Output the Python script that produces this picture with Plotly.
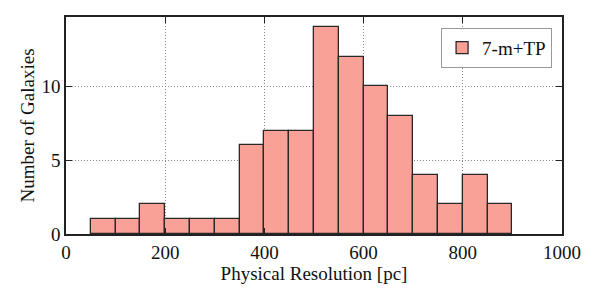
import plotly.graph_objects as go

bin_left = [50, 100, 150, 200, 250, 300, 350, 400, 450, 500, 550, 600, 650, 700, 750, 800, 850]
bin_width = 50
counts = [1, 1, 2, 1, 1, 1, 6, 7, 7, 14, 12, 10, 8, 4, 2, 4, 2]
series_name = "7-m+TP"
x_ticks = [0, 200, 400, 600, 800, 1000]
y_ticks = [0, 5, 10]

FONT = "Liberation Serif, Times New Roman, serif"

fig = go.Figure()
fig.add_trace(go.Bar(
    x=bin_left, y=counts, width=bin_width, offset=0,
    name=series_name,
    marker=dict(color="rgb(249,161,151)", line=dict(color="rgb(40,40,40)", width=1.3)),
    showlegend=True,
))

axis_common = dict(
    showline=True, linecolor="#222", linewidth=1.6, mirror="allticks",
    ticks="inside", ticklen=6, tickwidth=1.2, tickcolor="#222",
    showgrid=True, gridcolor="#888", griddash="1px,2px", gridwidth=1,
    zeroline=False, automargin=False,
    tickfont=dict(family=FONT, size=19, color="#111"),
)

fig.update_xaxes(range=[0, 1000], tickvals=x_ticks,
                 title=dict(text="Physical Resolution [pc]", font=dict(family=FONT, size=19, color="#111"), standoff=5),
                 **axis_common)
fig.update_yaxes(range=[0, 14.7], tickvals=y_ticks,
                 title=dict(text="Number of Galaxies", font=dict(family=FONT, size=19, color="#111"), standoff=2),
                 **axis_common)

fig.update_layout(
    width=584, height=284,
    margin=dict(l=58, r=30, t=9, b=58),
    plot_bgcolor="white", paper_bgcolor="white",
    bargap=0,
    legend=dict(x=0.98, y=0.95, xanchor="right", yanchor="top",
                bordercolor="#999", borderwidth=1, bgcolor="white",
                font=dict(family=FONT, size=19, color="#111"),
                itemwidth=30),
)

fig.write_html("out.html")
